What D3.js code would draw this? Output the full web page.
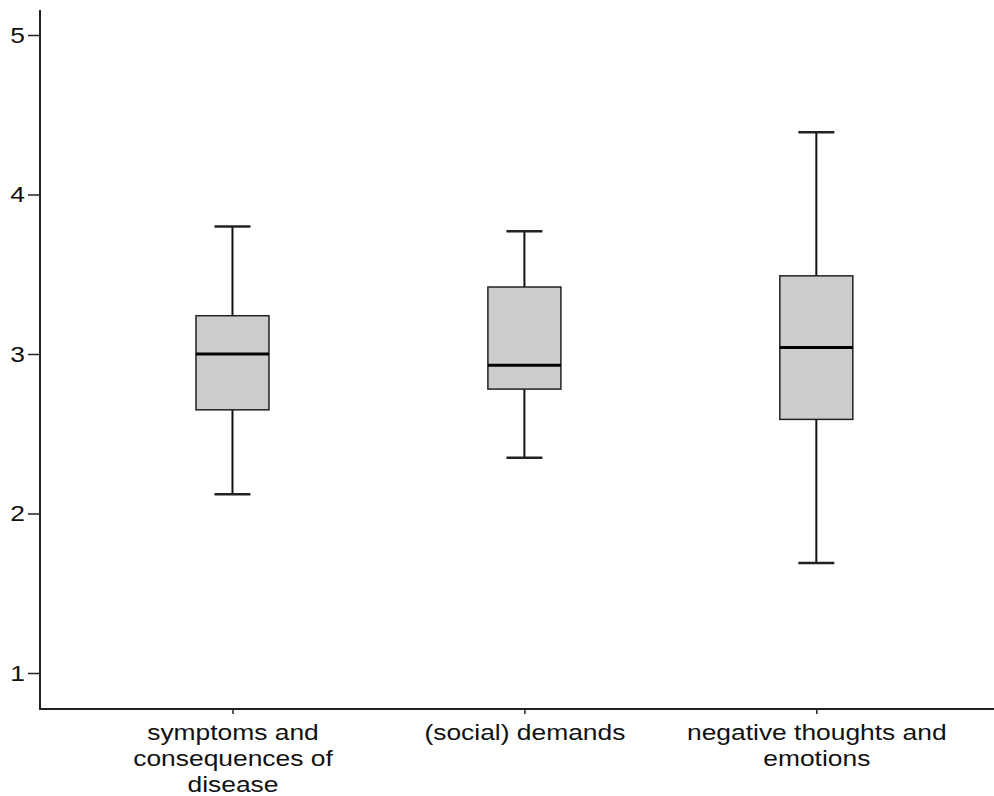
<!DOCTYPE html>
<html>
<head>
<meta charset="utf-8">
<script src="https://cdn.jsdelivr.net/npm/d3@7"></script>
<style>
  body { margin: 0; background: #fff; }
  svg { display: block; font-family: "Liberation Sans", Arial, Helvetica, sans-serif; }
</style>
</head>
<body>
<svg id="chart"></svg>
<script>
// Box plot summary
const categories = [
  "symptoms and consequences of disease",
  "(social) demands",
  "negative thoughts and emotions"
];
const whiskerLow = [2.12, 2.35, 1.69];
const q1 = [2.65, 2.78, 2.59];
const median = [3.0, 2.93, 3.04];
const q3 = [3.24, 3.42, 3.49];
const whiskerHigh = [3.8, 3.77, 4.39];
const yTicks = [1, 2, 3, 4, 5];

const config = {
  width: 994,
  height: 796,
  margin: { top: 10, right: 0, bottom: 87, left: 40 },
  boxWidth: 73,
  capWidth: 36,
  fontSize: 22,
  stretch: 1.2 // the source text is wider than it is tall
};

const svg = d3.select("#chart")
  .attr("width", config.width)
  .attr("height", config.height);

const innerBottom = config.height - config.margin.bottom;

// y: 5 sits at 35px, 1 at 673px
const y = d3.scaleLinear()
  .domain([1, 5])
  .range([673, 35]);

const x = d3.scalePoint()
  .domain(categories)
  .range([config.margin.left, config.width - config.margin.right])
  .padding(0.634)
  .align(0.52);

const data = categories.map((c, i) => ({
  cat: c,
  lo: whiskerLow[i],
  q1: q1[i],
  med: median[i],
  q3: q3[i],
  hi: whiskerHigh[i]
}));

// Axes
const yAxis = d3.axisLeft(y)
  .tickValues(yTicks)
  .tickSize(12)
  .tickPadding(3)
  .tickFormat(d3.format("d"));

const gy = svg.append("g")
  .attr("transform", `translate(${config.margin.left},0)`)
  .call(yAxis);
gy.select(".domain").remove();
gy.selectAll(".tick line").attr("stroke", "#222").attr("stroke-width", 1.5);
gy.selectAll(".tick text")
  .attr("font-size", config.fontSize)
  .attr("fill", "#111")
  .attr("x", -15 / config.stretch)
  .attr("transform", `scale(${config.stretch},1)`);

svg.append("line")
  .attr("x1", config.margin.left).attr("x2", config.margin.left)
  .attr("y1", config.margin.top).attr("y2", innerBottom)
  .attr("stroke", "#222").attr("stroke-width", 2);

const xAxis = d3.axisBottom(x).tickSize(5).tickPadding(10);
const gx = svg.append("g")
  .attr("transform", `translate(0,${innerBottom})`)
  .call(xAxis);
gx.select(".domain").remove();
gx.selectAll(".tick line").attr("stroke", "#222").attr("stroke-width", 1.5);
gx.selectAll(".tick text")
  .attr("font-size", config.fontSize)
  .attr("fill", "#111")
  .attr("transform", `scale(${config.stretch},1)`)
  .call(wrap, 275 / config.stretch);

svg.append("line")
  .attr("x1", config.margin.left - 1).attr("x2", config.width)
  .attr("y1", innerBottom).attr("y2", innerBottom)
  .attr("stroke", "#222").attr("stroke-width", 2);

// Boxes
const boxes = svg.append("g").selectAll("g.box")
  .data(data)
  .join("g")
  .attr("class", "box")
  .attr("transform", d => `translate(${x(d.cat)},0)`);

// whiskers
boxes.append("line")
  .attr("y1", d => y(d.hi)).attr("y2", d => y(d.q3))
  .attr("stroke", "#111").attr("stroke-width", 2);
boxes.append("line")
  .attr("y1", d => y(d.q1)).attr("y2", d => y(d.lo))
  .attr("stroke", "#111").attr("stroke-width", 2);

// caps
boxes.selectAll("line.cap")
  .data(d => [d.hi, d.lo])
  .join("line")
  .attr("class", "cap")
  .attr("x1", -config.capWidth / 2).attr("x2", config.capWidth / 2)
  .attr("y1", v => y(v)).attr("y2", v => y(v))
  .attr("stroke", "#222").attr("stroke-width", 2.5);

boxes.append("rect")
  .attr("x", -config.boxWidth / 2)
  .attr("width", config.boxWidth)
  .attr("y", d => y(d.q3))
  .attr("height", d => y(d.q1) - y(d.q3))
  .attr("fill", "#cccccc")
  .attr("stroke", "#222")
  .attr("stroke-width", 1.5);

boxes.append("line")
  .attr("x1", -config.boxWidth / 2).attr("x2", config.boxWidth / 2)
  .attr("y1", d => y(d.med)).attr("y2", d => y(d.med))
  .attr("stroke", "#000").attr("stroke-width", 3);

// wrap long tick labels onto several centred lines
function wrap(text, width) {
  text.each(function () {
    const t = d3.select(this);
    const words = t.text().split(/\s+/);
    const yPos = t.attr("y");
    const dy = parseFloat(t.attr("dy"));
    t.text(null);
    let line = [];
    let lineNo = 0;
    let tspan = t.append("tspan").attr("x", 0).attr("y", yPos).attr("dy", dy + "em");
    words.forEach(w => {
      line.push(w);
      tspan.text(line.join(" "));
      if (tspan.node().getComputedTextLength() > width && line.length > 1) {
        line.pop();
        tspan.text(line.join(" "));
        line = [w];
        lineNo++;
        tspan = t.append("tspan")
          .attr("x", 0).attr("y", yPos)
          .attr("dy", (dy + lineNo * 1.18) + "em")
          .text(w);
      }
    });
  });
}
</script>
</body>
</html>
